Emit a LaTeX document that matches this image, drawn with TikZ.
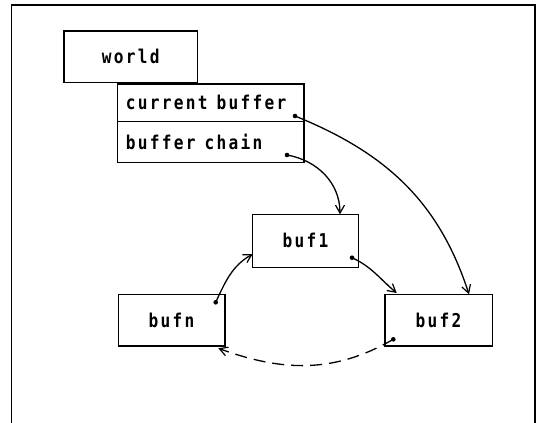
\documentclass[tikz,border=0pt]{standalone}
\usepackage{fontspec}
\newfontfamily\monofont[FakeStretch=0.85, LetterSpace=12]{DejaVu Sans Mono}
\usetikzlibrary{arrows.meta}
\newcommand\boxfont{\monofont\bfseries\fontsize{19}{19}\selectfont}
\newcommand\wsp{\hspace{9pt}}
\tikzset{
  box/.style={draw, line width=1.3pt, inner sep=0pt, font=\boxfont},
  conn/.style={line width=1.3pt, -{Straight Barb[length=8pt,width=9pt,line width=1.2pt]}},
  dot/.style={fill, circle, inner sep=0pt, minimum size=4.6pt},
}
\begin{document}
\begin{tikzpicture}[x=1pt,y=-1pt]
\useasboundingbox (0,0) rectangle (539,423);
% frame
\draw[line width=1.6pt] (11.5,425) -- (11.5,5) -- (535,5) -- (535,425);
% boxes
\node[box, minimum width=133.7, minimum height=51.7] (world) at (130.8,56.8) {world};
\node[box, minimum height=37.7, text width=169.7, inner xsep=8.3, align=left] (cb) at (210.8,102.8) {current\wsp buffer};
\node[box, minimum height=41, text width=169.7, inner xsep=8.3, align=left] (bc) at (210.8,142.2) {buffer\wsp chain};
\node[box, minimum width=105.6, minimum height=53] (buf1) at (305.5,240.8) {buf1};
\node[box, minimum width=106.7, minimum height=51.7] (bufn) at (171.6,320.1) {bufn};
\node[box, minimum width=107.3, minimum height=51.7] (buf2) at (438.6,320.1) {buf2};
% dots
\node[dot] (d1) at (295,116) {};
\node[dot] (d2) at (287,155) {};
\node[dot] (d3) at (352,257.7) {};
\node[dot] (d4) at (215.7,302.3) {};
\node[dot] (d5) at (393.3,339.3) {};
\coordinate (t2) at (340,214.3);
\coordinate (t1) at (469,294.3);
\coordinate (t3) at (396.7,293);
\coordinate (t4) at (252.7,254);
\coordinate (t5) at (218.3,348.3);
\draw[conn] (d2.center) to[out=-10,in=90] (t2);
\draw[conn] (d1.center) to[out=-22,in=108] (t1);
\draw[conn] (d3.center) to[out=-25,in=140] (t3);
\draw[conn] (d4.center) to[out=65,in=-150] (t4);
\draw[conn, dash pattern=on 12pt off 7pt] (d5.center) to[out=-150,in=-20] (t5);
\end{tikzpicture}
\end{document}
